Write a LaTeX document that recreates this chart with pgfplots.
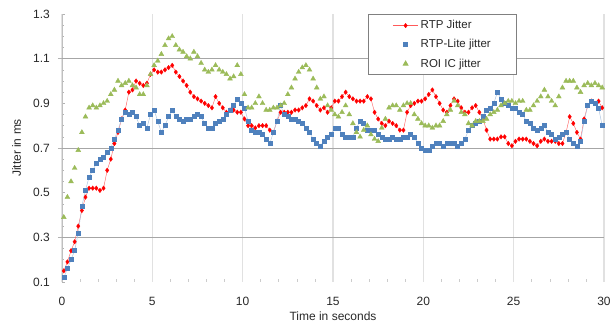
\documentclass[border=0pt]{standalone}
\usepackage{pgfplots}
\pgfplotsset{compat=1.18}
\usepackage{pgfplotstable}
\usepackage{fontspec}
\setmainfont{Liberation Sans}
\definecolor{rtpred}{RGB}{255,0,0}
\definecolor{rtpline}{RGB}{255,90,90}
\definecolor{liteblue}{RGB}{79,129,189}
\definecolor{liteline}{RGB}{175,198,225}
\definecolor{roigreen}{RGB}{155,187,89}
\definecolor{hgrid}{RGB}{166,166,166}
\definecolor{vgrid}{RGB}{225,225,225}
\definecolor{txt}{RGB}{40,40,40}

\pgfplotstableread{
t v
0.1 0.15
0.3 0.19
0.5 0.24
0.7 0.28
0.9 0.35
1.1 0.42
1.3 0.48
1.5 0.52
1.7 0.52
1.9 0.52
2.1 0.51
2.3 0.52
2.5 0.60
2.7 0.65
2.9 0.72
3.1 0.77
3.3 0.83
3.5 0.87
3.7 0.95
3.9 0.96
4.1 1.00
4.3 0.99
4.5 0.98
4.7 0.99
4.9 1.03
5.1 1.05
5.3 1.04
5.5 1.04
5.7 1.05
5.9 1.06
6.1 1.07
6.3 1.04
6.5 1.02
6.7 1.00
6.9 0.98
7.1 0.95
7.3 0.93
7.5 0.92
7.7 0.91
7.9 0.90
8.1 0.89
8.3 0.88
8.5 0.93
8.7 0.90
8.9 0.88
9.1 0.86
9.3 0.87
9.5 0.87
9.7 0.86
9.9 0.86
10.1 0.83
10.3 0.80
10.5 0.80
10.7 0.79
10.9 0.80
11.1 0.80
11.3 0.80
11.5 0.78
11.7 0.77
11.9 0.82
12.1 0.86
12.3 0.86
12.5 0.86
12.7 0.86
12.9 0.87
13.1 0.87
13.3 0.88
13.5 0.89
13.7 0.92
13.9 0.91
14.1 0.89
14.3 0.87
14.5 0.88
14.7 0.86
14.9 0.88
15.1 0.91
15.3 0.91
15.5 0.93
15.7 0.95
15.9 0.93
16.1 0.92
16.3 0.91
16.5 0.91
16.7 0.91
16.9 0.93
17.1 0.92
17.3 0.86
17.5 0.83
17.7 0.81
17.9 0.80
18.1 0.82
18.3 0.81
18.5 0.80
18.7 0.78
18.9 0.78
19.1 0.86
19.3 0.89
19.5 0.90
19.7 0.91
19.9 0.91
20.1 0.92
20.3 0.94
20.5 0.96
20.7 0.93
20.9 0.90
21.1 0.87
21.3 0.86
21.5 0.89
21.7 0.92
21.9 0.91
22.1 0.88
22.3 0.86
22.5 0.86
22.7 0.88
22.9 0.89
23.1 0.86
23.3 0.83
23.5 0.78
23.7 0.74
23.9 0.74
24.1 0.74
24.3 0.75
24.5 0.75
24.7 0.72
24.9 0.71
25.1 0.73
25.3 0.74
25.5 0.74
25.7 0.74
25.9 0.73
26.1 0.72
26.3 0.71
26.5 0.73
26.7 0.74
26.9 0.73
27.1 0.73
27.3 0.73
27.5 0.72
27.7 0.72
27.9 0.77
28.1 0.84
28.3 0.81
28.5 0.77
28.7 0.74
28.9 0.83
29.1 0.89
29.3 0.91
29.5 0.90
29.7 0.91
29.9 0.88
}\rtptable

\pgfplotstableread{
t v
0.1 0.12
0.3 0.16
0.5 0.20
0.7 0.24
0.9 0.32
1.1 0.44
1.3 0.51
1.5 0.57
1.7 0.60
1.9 0.63
2.1 0.65
2.3 0.66
2.5 0.68
2.7 0.70
2.9 0.74
3.1 0.78
3.3 0.83
3.5 0.86
3.7 0.85
3.9 0.86
4.1 0.84
4.3 0.80
4.5 0.81
4.7 0.79
4.9 0.85
5.1 0.87
5.3 0.82
5.5 0.77
5.7 0.80
5.9 0.84
6.1 0.87
6.3 0.84
6.5 0.83
6.7 0.82
6.9 0.83
7.1 0.83
7.3 0.84
7.5 0.85
7.7 0.84
7.9 0.81
8.1 0.79
8.3 0.79
8.5 0.81
8.7 0.82
8.9 0.83
9.1 0.85
9.3 0.87
9.5 0.89
9.7 0.92
9.9 0.90
10.1 0.88
10.3 0.82
10.5 0.78
10.7 0.77
10.9 0.77
11.1 0.76
11.3 0.74
11.5 0.72
11.7 0.77
11.9 0.82
12.1 0.89
12.3 0.85
12.5 0.84
12.7 0.83
12.9 0.83
13.1 0.82
13.3 0.81
13.5 0.79
13.7 0.77
13.9 0.74
14.1 0.72
14.3 0.71
14.5 0.73
14.7 0.75
14.9 0.76
15.1 0.79
15.3 0.79
15.5 0.76
15.7 0.75
15.9 0.75
16.1 0.75
16.3 0.79
16.5 0.82
16.7 0.81
16.9 0.78
17.1 0.78
17.3 0.78
17.5 0.76
17.7 0.75
17.9 0.74
18.1 0.74
18.3 0.75
18.5 0.74
18.7 0.74
18.9 0.75
19.1 0.75
19.3 0.76
19.5 0.75
19.7 0.72
19.9 0.70
20.1 0.69
20.3 0.69
20.5 0.71
20.7 0.72
20.9 0.72
21.1 0.71
21.3 0.72
21.5 0.72
21.7 0.72
21.9 0.71
22.1 0.72
22.3 0.74
22.5 0.78
22.7 0.80
22.9 0.81
23.1 0.82
23.3 0.84
23.5 0.87
23.7 0.88
23.9 0.90
24.1 0.95
24.3 0.92
24.5 0.90
24.7 0.89
24.9 0.88
25.1 0.88
25.3 0.86
25.5 0.85
25.7 0.82
25.9 0.81
26.1 0.79
26.3 0.78
26.5 0.79
26.7 0.80
26.9 0.77
27.1 0.76
27.3 0.74
27.5 0.75
27.7 0.76
27.9 0.77
28.1 0.74
28.3 0.72
28.5 0.71
28.7 0.73
28.9 0.82
29.1 0.89
29.3 0.91
29.5 0.90
29.7 0.88
29.9 0.80
}\litetable

\pgfplotstableread{
t v
0.1 0.39
0.3 0.48
0.5 0.55
0.7 0.61
0.9 0.69
1.1 0.77
1.3 0.84
1.5 0.88
1.7 0.89
1.9 0.88
2.1 0.89
2.3 0.90
2.5 0.91
2.7 0.94
2.9 0.96
3.1 1.00
3.3 0.98
3.5 0.99
3.7 1.00
3.9 0.98
4.1 0.97
4.3 0.94
4.5 0.94
4.7 0.98
4.9 1.03
5.1 1.07
5.3 1.09
5.5 1.12
5.7 1.16
5.9 1.19
6.1 1.20
6.3 1.16
6.5 1.14
6.7 1.13
6.9 1.11
7.1 1.10
7.3 1.13
7.5 1.11
7.7 1.08
7.9 1.05
8.1 1.04
8.3 1.05
8.5 1.07
8.7 1.05
8.9 1.04
9.1 1.03
9.3 1.01
9.5 1.02
9.7 1.07
9.9 1.03
10.1 0.94
10.3 0.88
10.5 0.88
10.7 0.90
10.9 0.93
11.1 0.90
11.3 0.87
11.5 0.87
11.7 0.88
11.9 0.88
12.1 0.89
12.3 0.90
12.5 0.94
12.7 0.97
12.9 1.01
13.1 1.04
13.3 1.06
13.5 1.07
13.7 1.05
13.9 1.01
14.1 0.97
14.3 0.92
14.5 0.93
14.7 0.89
14.9 0.87
15.1 0.85
15.3 0.84
15.5 0.86
15.7 0.89
15.9 0.85
16.1 0.81
16.3 0.77
16.5 0.75
16.7 0.78
16.9 0.80
17.1 0.76
17.3 0.74
17.5 0.73
17.7 0.79
17.9 0.83
18.1 0.88
18.3 0.89
18.5 0.89
18.7 0.87
18.9 0.89
19.1 0.90
19.3 0.90
19.5 0.85
19.7 0.83
19.9 0.81
20.1 0.80
20.3 0.80
20.5 0.79
20.7 0.80
20.9 0.80
21.1 0.82
21.3 0.85
21.5 0.87
21.7 0.91
21.9 0.89
22.1 0.86
22.3 0.85
22.5 0.81
22.7 0.80
22.9 0.82
23.1 0.82
23.3 0.82
23.5 0.83
23.7 0.85
23.9 0.86
24.1 0.87
24.3 0.89
24.5 0.90
24.7 0.91
24.9 0.91
25.1 0.90
25.3 0.91
25.5 0.91
25.7 0.87
25.9 0.87
26.1 0.89
26.3 0.91
26.5 0.93
26.7 0.96
26.9 0.93
27.1 0.91
27.3 0.89
27.5 0.93
27.7 0.97
27.9 1.00
28.1 1.00
28.3 1.00
28.5 0.97
28.7 0.95
28.9 0.98
29.1 0.99
29.3 0.98
29.5 0.99
29.7 0.98
29.9 0.97
}\roitable

\begin{document}
\fontsize{12}{14}\selectfont
\begin{tikzpicture}
\begin{axis}[
  scale only axis,
  width=542pt, height=268pt,
  xmin=0, xmax=30, ymin=0.1, ymax=1.3,
  axis x line*=bottom, axis y line*=left,
  x axis line style={draw=none},
  y axis line style={draw=black!25, -},
  xtick={0,5,10,15,20,25,30},
  minor x tick num=4,
  xmajorgrids,
  major x grid style={draw=vgrid, line width=1.6pt},
  x tick style={draw=black!20, line width=0.6pt},
  xtick align=inside,
  every major x tick/.append style={draw=none},
  ytick={0.1,0.3,0.5,0.7,0.9,1.1,1.3},
  minor y tick num=3,
  y tick style={draw=black!30, line width=0.5pt},
  ytick align=inside,
  major tick length=3pt, minor tick length=2.5pt,
  extra y ticks={0.3,0.7,1.1},
  extra y tick labels={},
  extra y tick style={grid=major, major grid style={draw=hgrid, line width=0.7pt}, tick align=outside, major tick length=4pt, tick style={draw=hgrid}},
  yticklabel style={xshift=-8pt, /pgf/number format/.cd, fixed, fixed zerofill, precision=1, assume math mode=true},
  xticklabel style={yshift=-11pt, /pgf/number format/assume math mode=true},
  tick label style={text=txt},
  xlabel={Time in seconds},
  ylabel={Jitter in ms},
  label style={text=txt},
  xlabel style={yshift=2pt},
  legend style={at={(0.5646,1)}, anchor=north west, draw=black!50, line width=1pt,
    inner xsep=24pt, inner ysep=4pt, row sep=5pt,
    font=\fontsize{11.5}{13}\selectfont,
    nodes={line width=0.4pt, text=txt}, legend cell align=left},
  legend image code/.code={\draw[mark repeat=2, mark phase=2, #1] plot coordinates {(0cm,0cm) (0.45cm,0cm) (0.9cm,0cm)};},
]
\addplot[color=rtpline, line width=0.4pt, mark=diamond*, mark size=2.3pt, mark options={draw=rtpred, fill=rtpred, line width=0.3pt, solid}, forget plot] table[x=t, y=v] {\rtptable};
\addplot[color=liteline, line width=0.5pt, mark=square*, mark size=2pt, mark options={draw=liteblue, fill=liteblue}, forget plot] table[x=t, y=v] {\litetable};
\addplot[only marks, mark=triangle*, mark size=2.8pt, mark options={draw=roigreen, fill=roigreen}, forget plot] table[x=t, y=v] {\roitable};
\addlegendimage{color=rtpline, line width=0.6pt, mark=diamond*, mark size=2.3pt, mark options={draw=rtpred, fill=rtpred, line width=0.3pt, solid}}
\addlegendentry{RTP Jitter}
\addlegendimage{only marks, mark=square*, mark size=1.7pt, mark options={draw=liteblue, fill=liteblue}}
\addlegendentry{RTP-Lite jitter}
\addlegendimage{only marks, mark=triangle*, mark size=2.6pt, mark options={draw=roigreen, fill=roigreen}}
\addlegendentry{ROI IC jitter}
\end{axis}
\path ([xshift=-62pt,yshift=-51pt]current axis.south west) rectangle ([xshift=12pt,yshift=14pt]current axis.north east);
\end{tikzpicture}
\end{document}
